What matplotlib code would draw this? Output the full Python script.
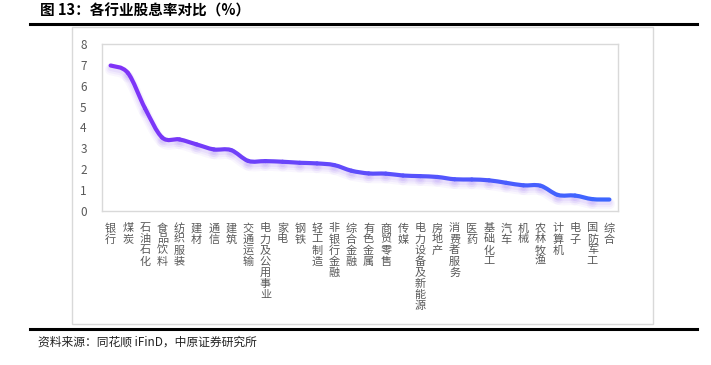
import matplotlib.pyplot as plt
import matplotlib.transforms as mtransforms
from matplotlib.patches import Rectangle, PathPatch
from matplotlib.path import Path
from matplotlib.lines import Line2D
import numpy as np

plt.rcParams['font.family'] = ['Noto Sans CJK SC', 'DejaVu Sans']

################################################################################################

industries = ['银行', '煤炭', '石油石化', '食品饮料', '纺织服装', '建材', '通信', '建筑',
              '交通运输', '电力及公用事业', '家电', '钢铁', '轻工制造', '非银行金融', '综合金融',
              '有色金属', '商贸零售', '传媒', '电力设备及新能源', '房地产', '消费者服务', '医药',
              '基础化工', '汽车', '机械', '农林牧渔', '计算机', '电子', '国防军工', '综合']
dividend_yield = [6.97, 6.62, 4.92, 3.52, 3.43, 3.19, 2.95, 2.92, 2.40, 2.39, 2.36, 2.31,
                  2.28, 2.20, 1.93, 1.80, 1.79, 1.70, 1.67, 1.63, 1.52, 1.51, 1.47, 1.35,
                  1.23, 1.21, 0.77, 0.74, 0.57, 0.55]
y_ticks = [0, 1, 2, 3, 4, 5, 6, 7, 8]

W, H = 711, 365
fig = plt.figure(figsize=(W / 100, H / 100), dpi=100)

# outer light frame
fig.patches.append(Rectangle((72 / W, 1 - 324 / H), 581 / W, 297 / H, transform=fig.transFigure,
                             fill=False, edgecolor='#d9d9d9', linewidth=1))

# title and rules
fig.text(40 / W, 1 - 11 / H, '图 13：各行业股息率对比（%）', fontsize=10.5, fontweight='bold',
         va='center', ha='left', color='black')
fig.lines.append(Line2D([30 / W, 697 / W], [1 - 24 / H, 1 - 24 / H], transform=fig.transFigure,
                        color='black', linewidth=2.2))
fig.lines.append(Line2D([30 / W, 697 / W], [1 - 329 / H, 1 - 329 / H], transform=fig.transFigure,
                        color='black', linewidth=2.2))
fig.text(38 / W, 1 - 342 / H, '资料来源：同花顺 iFinD，中原证券研究所', fontsize=8.5,
         va='center', ha='left', color='#222222')

# plot area
ax = fig.add_axes([102 / W, 1 - 211 / H, 516 / W, 167 / H])
x = np.arange(len(industries), dtype=float)
y = np.array(dividend_yield)
n = len(x)


def smooth_piece(i):
    # one Catmull-Rom style bezier piece between point i and i+1
    p = np.column_stack([x, y])
    p0 = p[max(i - 1, 0)]
    p1 = p[i]
    p2 = p[i + 1]
    p3 = p[min(i + 2, n - 1)]
    c1 = p1 + (p2 - p0) / 6
    c2 = p2 - (p3 - p1) / 6
    return Path([p1, c1, c2, p2], [Path.MOVETO, Path.CURVE4, Path.CURVE4, Path.CURVE4])


c0 = np.array([0.50, 0.20, 0.97])
c1 = np.array([0.24, 0.40, 1.00])
t = np.linspace(0, 1, n - 1)

# soft glow under the line
for lw, a, dy in [(8, 0.06, -3), (6, 0.08, -2.5), (4, 0.10, -2)]:
    off = mtransforms.offset_copy(ax.transData, fig=fig, x=0, y=dy, units='points')
    for i in range(n - 1):
        ax.add_patch(PathPatch(smooth_piece(i), fill=False, edgecolor=(0.62, 0.45, 0.98, a),
                               linewidth=lw, capstyle='round', joinstyle='round', transform=off))

# gradient line purple -> blue
for i in range(n - 1):
    col = tuple(c0 + (c1 - c0) * t[i])
    ax.add_patch(PathPatch(smooth_piece(i), fill=False, edgecolor=col, linewidth=3,
                           capstyle='round', joinstyle='round'))

ax.set_xlim(-0.5, n - 0.5)
ax.set_ylim(0, 8)
ax.set_yticks(y_ticks)
ax.set_xticks(x)
ax.set_xticklabels([])
ax.tick_params(axis='both', which='both', length=0)
ax.tick_params(axis='y', pad=11, labelsize=8.5, labelcolor='#595959')
for s in ax.spines.values():
    s.set_color('#d9d9d9')
    s.set_linewidth(1)

# vertical category labels, one character per row
blend = mtransforms.blended_transform_factory(ax.transData, ax.transAxes)
for xi, name in zip(x, industries):
    for k, ch in enumerate(name):
        tr = mtransforms.offset_copy(blend, fig=fig, x=0, y=-(17.5 + 11 * k), units='dots')
        ax.text(xi, 0, ch, transform=tr, ha='center', va='center', fontsize=8,
                color='#595959', clip_on=False)

fig.savefig('out.png', dpi=100)
plt.close(fig)
